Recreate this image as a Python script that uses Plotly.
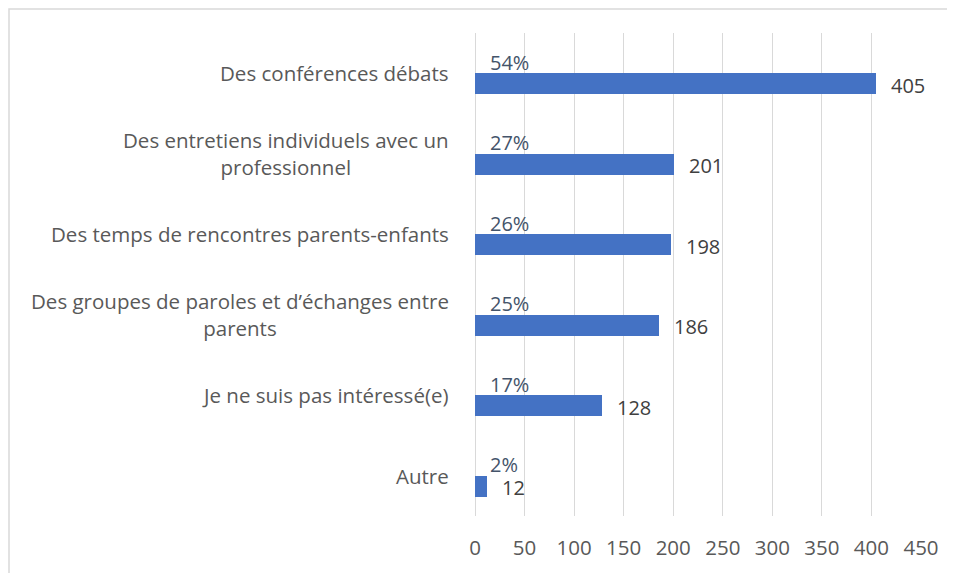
import plotly.graph_objects as go

categories = [
    "Des conférences débats",
    "Des entretiens individuels avec un<br>professionnel",
    "Des temps de rencontres parents-enfants",
    "Des groupes de paroles et d’échanges entre<br>parents",
    "Je ne suis pas intéressé(e)",
    "Autre",
]
counts = [405, 201, 198, 186, 128, 12]
percents = ["54%", "27%", "26%", "25%", "17%", "2%"]
x_ticks = [0, 50, 100, 150, 200, 250, 300, 350, 400, 450]

FONT = "Open Sans"
FS = 20.5

# page body has an 8px margin: figure origin sits at (8, 8)
W, H = 947, 565
L, T = 467, 25
PW, PH = 446, 485

fig = go.Figure()
fig.add_trace(go.Bar(
    x=counts, y=categories, orientation="h",
    width=0.26, offset=0,
    marker=dict(color="#4472C4", line=dict(width=0)),
    hoverinfo="x+y", showlegend=False,
))

annotations = []
for cat, n, p in zip(categories, counts, percents):
    annotations.append(dict(
        x=0, y=cat, xref="x", yref="y", text=cat, showarrow=False,
        xanchor="right", yanchor="middle", align="center", xshift=-24,
        font=dict(family=FONT, size=FS, color="#595959"),
    ))
    annotations.append(dict(
        x=0, y=cat, xref="x", yref="y", text=p, showarrow=False,
        xanchor="left", yanchor="middle", xshift=13, yshift=11,
        font=dict(family=FONT, size=FS - 0.5, color="#44546A"),
    ))
    annotations.append(dict(
        x=n, y=cat, xref="x", yref="y", text=str(n), showarrow=False,
        xanchor="left", yanchor="middle", xshift=13, yshift=-12,
        font=dict(family=FONT, size=FS - 0.5, color="#404040"),
    ))

fig.update_layout(
    width=W, height=H,
    margin=dict(l=L, r=W - L - PW, t=T, b=H - T - PH),
    paper_bgcolor="white", plot_bgcolor="white",
    font=dict(family=FONT, size=FS, color="#595959"),
    annotations=annotations,
    bargap=0,
    shapes=[dict(
        type="rect", xref="paper", yref="paper",
        x0=(1 - L) / PW, x1=(1200 - L) / PW,
        y0=(T + PH - 800) / PH, y1=(T + PH - 1) / PH,
        line=dict(color="#D9D9D9", width=1.5), fillcolor="rgba(0,0,0,0)",
        layer="below",
    )],
)
fig.update_xaxes(
    range=[0, 450], tickvals=x_ticks, ticktext=[str(v) for v in x_ticks],
    showgrid=True, gridcolor="#D9D9D9", gridwidth=1.3,
    zeroline=True, zerolinecolor="#D9D9D9", zerolinewidth=1.3,
    showline=False, ticks="", ticklabelstandoff=17,
    tickfont=dict(family=FONT, size=FS, color="#595959"),
)
fig.update_yaxes(
    categoryorder="array", categoryarray=categories,
    autorange="reversed", showticklabels=False, showgrid=False,
    zeroline=False, showline=False, ticks="",
)

fig.write_html("out.html")
